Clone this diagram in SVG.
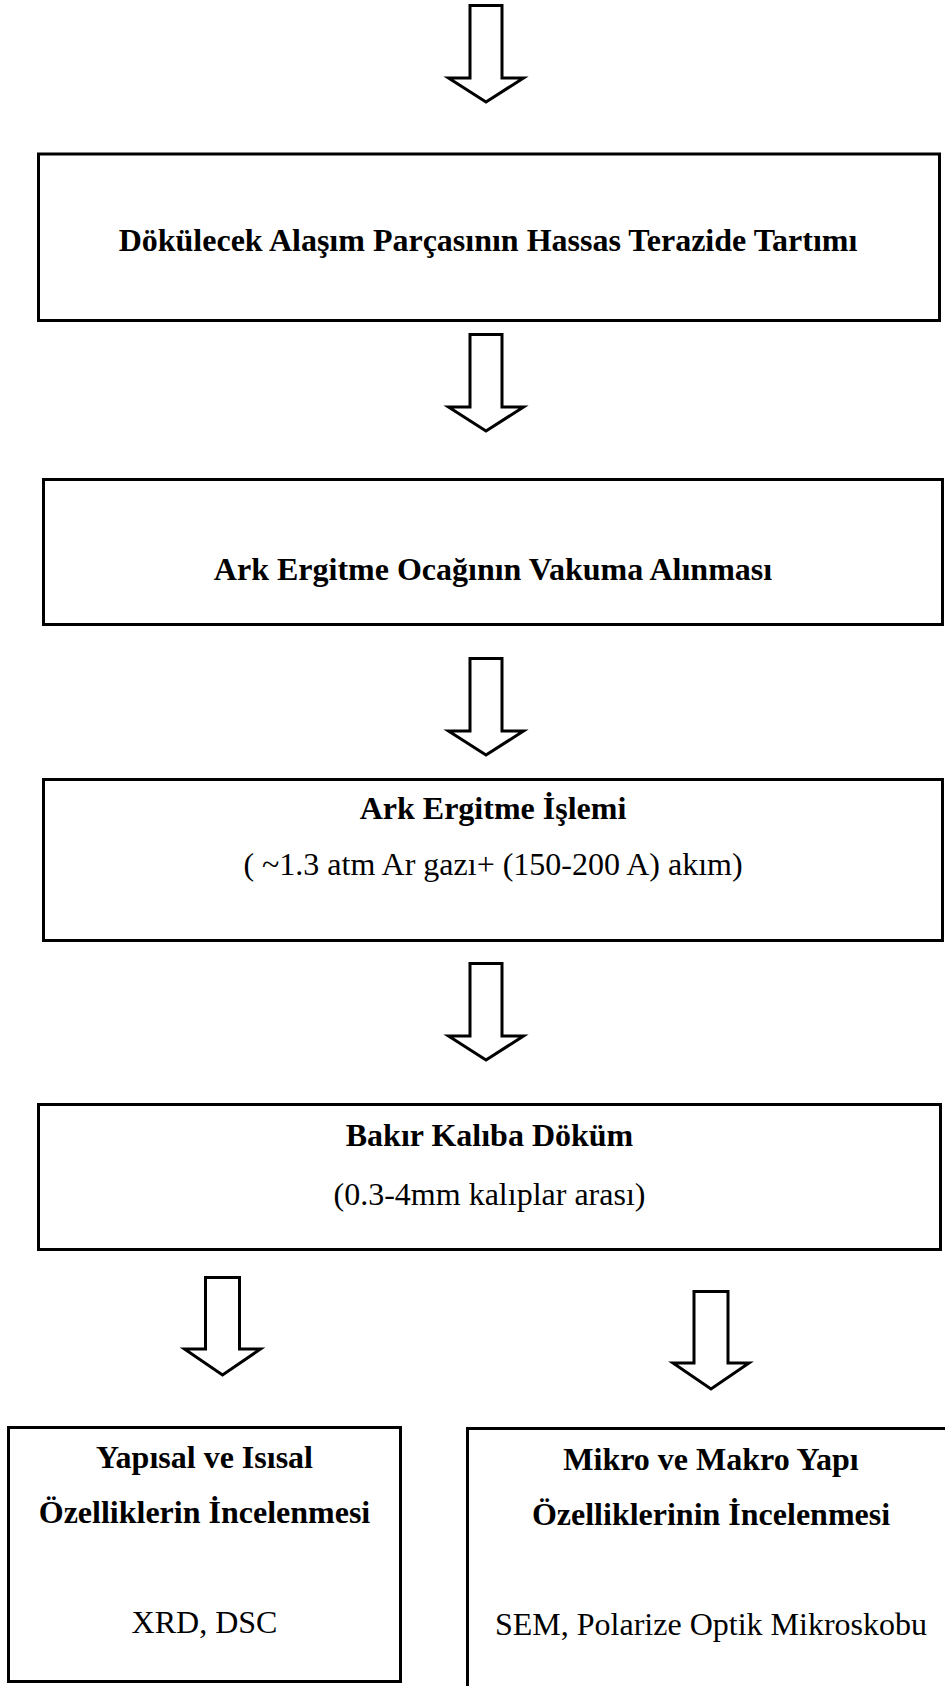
<svg xmlns="http://www.w3.org/2000/svg" width="945" height="1686" viewBox="0 0 945 1686">
<style>
.box{fill:#fff;stroke:#000;stroke-width:3}
.arr{fill:#fff;stroke:#000;stroke-width:3;stroke-linejoin:miter;stroke-miterlimit:10}
.t{font-family:"Liberation Serif","Times New Roman",serif;font-size:32px;fill:#000;text-anchor:middle}
.b{font-weight:bold}
</style>
<rect width="945" height="1686" fill="#fff"/>
<g id="connectors">
<polygon class="arr" points="470,5.5 502,5.5 502,78 523.5,78 486,102 448.5,78 470,78"/>
<polygon class="arr" points="470,334.5 502,334.5 502,407 523.5,407 486,431 448.5,407 470,407"/>
<polygon class="arr" points="470,658.5 502,658.5 502,731 523.5,731 486,755 448.5,731 470,731"/>
<polygon class="arr" points="470,963.5 502,963.5 502,1036 523.5,1036 486,1060 448.5,1036 470,1036"/>
<polygon class="arr" points="205.5,1277.5 239.5,1277.5 239.5,1349 260.5,1349 222.5,1375 184.5,1349 205.5,1349"/>
<polygon class="arr" points="694,1291.5 728,1291.5 728,1363 749,1363 711,1389 673,1363 694,1363"/>
</g>
<g id="node1">
<rect class="box" x="38.5" y="154" width="901" height="166.5"/>
<text class="t b" x="488" y="251">Dökülecek Alaşım Parçasının Hassas Terazide Tartımı</text>
</g>
<g id="node2">
<rect class="box" x="43.5" y="479.5" width="899" height="145"/>
<text class="t b" x="493" y="580">Ark Ergitme Ocağının Vakuma Alınması</text>
</g>
<g id="node3">
<rect class="box" x="43.5" y="779.5" width="899" height="161"/>
<text class="t b" x="493" y="819">Ark Ergitme İşlemi</text>
<text class="t" x="493" y="875">( ~1.3 atm Ar gazı+ (150-200 A) akım)</text>
</g>
<g id="node4">
<rect class="box" x="38.5" y="1104.5" width="902" height="145"/>
<text class="t b" x="489.5" y="1146">Bakır Kalıba Döküm</text>
<text class="t" x="489.5" y="1205">(0.3-4mm kalıplar arası)</text>
</g>
<g id="node5">
<rect class="box" x="8.5" y="1427.5" width="392" height="254"/>
<text class="t b" x="204.5" y="1468">Yapısal ve Isısal</text>
<text class="t b" x="204.5" y="1523">Özelliklerin İncelenmesi</text>
<text class="t" x="204.5" y="1633">XRD, DSC</text>
</g>
<g id="node6">
<rect class="box" x="467.5" y="1428.5" width="490" height="270"/>
<text class="t b" x="711" y="1470">Mikro ve Makro Yapı</text>
<text class="t b" x="711" y="1525">Özelliklerinin İncelenmesi</text>
<text class="t" x="711" y="1635">SEM, Polarize Optik Mikroskobu</text>
</g>
</svg>
